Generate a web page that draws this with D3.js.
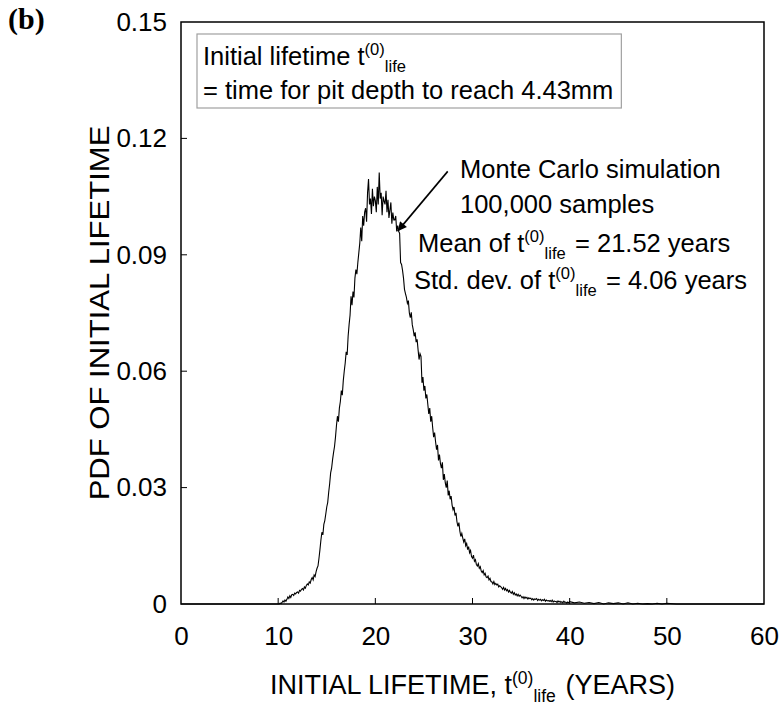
<!DOCTYPE html>
<html><head><meta charset="utf-8">
<script src="https://cdn.jsdelivr.net/npm/d3@7/dist/d3.min.js"></script>
<style>body{margin:0;background:#fff}svg{display:block}text{font-family:"Liberation Sans",Arial,sans-serif;fill:#000}</style>
</head><body><svg id="c" width="782" height="707"></svg>
<script>
// ---- data ----
const xTicks = [0, 10, 20, 30, 40, 50, 60];
const yTicks = [0, 0.03, 0.06, 0.09, 0.12, 0.15];
const yTickLabels = ["0", "0.03", "0.06", "0.09", "0.12", "0.15"];
// PDF values on a 0.1-year grid, 10.0 .. 39.9 years (one row per year)
const mainStart = 10.0, mainStep = 0.1;
const mainPdf = [
0.0000,0.0000,0.0002,0.0001,0.0004,0.0008,0.0005,0.0010,0.0007,0.0012,
0.0018,0.0014,0.0021,0.0017,0.0024,0.0025,0.0022,0.0028,0.0026,0.0030,
0.0031,0.0028,0.0035,0.0033,0.0038,0.0040,0.0036,0.0044,0.0041,0.0048,
0.0052,0.0049,0.0057,0.0054,0.0063,0.0068,0.0062,0.0075,0.0071,0.0083,
0.0092,0.0098,0.0118,0.0140,0.0165,0.0185,0.0178,0.0205,0.0215,0.0232,
0.0250,0.0262,0.0288,0.0310,0.0338,0.0350,0.0372,0.0390,0.0406,0.0430,
0.0460,0.0484,0.0470,0.0505,0.0522,0.0550,0.0538,0.0575,0.0600,0.0621,
0.0650,0.0642,0.0690,0.0720,0.0745,0.0793,0.0770,0.0805,0.0790,0.0840,
0.0862,0.0850,0.0880,0.0905,0.0930,0.0970,0.0935,0.1000,0.0975,0.1010,
0.1020,0.0985,0.1060,0.1095,0.1030,0.1045,0.1005,0.1070,0.1025,0.1050,
0.1040,0.1010,0.1075,0.1030,0.1112,0.1045,0.1060,0.1002,0.1050,0.1038,
0.1030,0.1065,0.1010,0.1042,0.0995,0.1015,0.1035,0.0980,0.1009,0.0990,
0.0990,0.1000,0.0960,0.0975,0.0961,0.0955,0.0880,0.0875,0.0860,0.0840,
0.0811,0.0800,0.0790,0.0775,0.0782,0.0750,0.0738,0.0752,0.0720,0.0707,
0.0690,0.0700,0.0675,0.0682,0.0655,0.0630,0.0645,0.0638,0.0570,0.0585,
0.0550,0.0562,0.0530,0.0540,0.0515,0.0490,0.0505,0.0470,0.0484,0.0455,
0.0430,0.0442,0.0418,0.0398,0.0410,0.0370,0.0385,0.0362,0.0350,0.0365,
0.0320,0.0335,0.0312,0.0300,0.0318,0.0280,0.0292,0.0270,0.0278,0.0255,
0.0243,0.0250,0.0228,0.0235,0.0212,0.0200,0.0210,0.0188,0.0174,0.0182,
0.0170,0.0160,0.0168,0.0150,0.0156,0.0140,0.0148,0.0132,0.0138,0.0122,
0.0118,0.0126,0.0110,0.0114,0.0102,0.0098,0.0104,0.0092,0.0096,0.0085,
0.0081,0.0086,0.0075,0.0079,0.0070,0.0068,0.0072,0.0062,0.0066,0.0058,
0.0057,0.0052,0.0058,0.0050,0.0053,0.0049,0.0051,0.0044,0.0047,0.0045,
0.0042,0.0038,0.0043,0.0036,0.0040,0.0034,0.0037,0.0031,0.0035,0.0030,
0.0028,0.0032,0.0025,0.0029,0.0023,0.0026,0.0021,0.0025,0.0020,0.0023,
0.0020,0.0016,0.0019,0.0014,0.0018,0.0015,0.0017,0.0013,0.0016,0.0014,
0.0015,0.0011,0.0014,0.0010,0.0013,0.0012,0.0014,0.0009,0.0012,0.0010,
0.0012,0.0008,0.0011,0.0009,0.0012,0.0007,0.0010,0.0008,0.0009,0.0007,
0.0009,0.0006,0.0010,0.0005,0.0008,0.0006,0.0007,0.0004,0.0008,0.0005,
0.0007,0.0004,0.0006,0.0003,0.0007,0.0004,0.0005,0.0002,0.0005,0.0003
];
// sparse tail beyond 40 years
const tailYears = [40.0,40.5,41.0,41.5,42.0,42.5,43.0,43.5,44.0,44.5,45.0,45.5,46.0,46.5,47.0,47.5,48.0,48.5,49.0,49.5,50.0,51.0,55.0,60.0];
const tailPdf   = [0.0006,0.0003,0.0005,0.0002,0.0004,0.0001,0.0004,0.0000,0.0003,0.0001,0.0003,0.0000,0.0003,0.0000,0.0002,0.0000,0.0001,0.0000,0.0002,0.0000,0.0002,0.0000,0.0000,0.0000];
const leadYears = [0, 10.0];
const leadPdf = [0, 0];

// ---- layout ----
const svg = d3.select("#c");
const L = 181, R = 764, T = 22, B = 604;
const x = d3.scaleLinear().domain([0, 60]).range([L, R]);
const y = d3.scaleLinear().domain([0, 0.15]).range([B, T]);
const F = 26, FA = 25.5;

const pts = [];
leadYears.forEach((t, i) => pts.push([t, leadPdf[i]]));
mainPdf.forEach((v, i) => pts.push([+(mainStart + i * mainStep).toFixed(1), v]));
tailYears.forEach((t, i) => pts.push([t, tailPdf[i]]));

svg.append("path").datum(pts)
  .attr("d", d3.line().x(d => x(d[0])).y(d => y(d[1])))
  .attr("fill", "none").attr("stroke", "#000").attr("stroke-width", 1.1);

// frame
svg.append("rect").attr("x", L).attr("y", T).attr("width", R - L).attr("height", B - T)
  .attr("fill", "none").attr("stroke", "#000").attr("stroke-width", 1.5);

// axes (inward ticks)
const xAxis = d3.axisBottom(x).tickValues(xTicks).tickSize(0).tickPadding(0).tickFormat(d3.format("d"));
const gx = svg.append("g").attr("transform", `translate(0,${B})`).call(xAxis);
gx.select(".domain").remove();
gx.selectAll("text").attr("font-size", F).attr("font-family", "Liberation Sans, Arial").attr("y", 41).attr("dy", 0);
svg.append("g").selectAll("line").data(xTicks.slice(1, -1)).join("line")
  .attr("x1", d => x(d)).attr("x2", d => x(d)).attr("y1", B).attr("y2", B - 6)
  .attr("stroke", "#000").attr("stroke-width", 1);

const yAxis = d3.axisLeft(y).tickValues(yTicks).tickSize(0).tickPadding(14)
  .tickFormat((d, i) => yTickLabels[i]);
const gy = svg.append("g").attr("transform", `translate(${L},0)`).call(yAxis);
gy.select(".domain").remove();
gy.selectAll("text").attr("font-size", F).attr("font-family", "Liberation Sans, Arial");
svg.append("g").selectAll("line").data(yTicks.slice(1, -1)).join("line")
  .attr("x1", L).attr("x2", L + 6).attr("y1", d => y(d)).attr("y2", d => y(d))
  .attr("stroke", "#000").attr("stroke-width", 1);

// helper for t^(0)_life
function tLife(sel, size) {
  sel.append("tspan").text("t");
  sel.append("tspan").attr("font-size", size * 0.65).attr("dy", -size * 0.38).text("(0)");
  sel.append("tspan").attr("font-size", size * 0.65).attr("dy", size * 0.66).text("life");
  sel.append("tspan").attr("font-size", size).attr("dy", -size * 0.28).text("\u200A");
}

// legend box
const lg = svg.append("g");
const box = lg.append("rect").attr("x", 197).attr("y", 34)
  .attr("fill", "#fff").attr("stroke", "#a0a0a0").attr("stroke-width", 1.2);
const l1 = lg.append("text").attr("x", 203).attr("y", 65).attr("font-size", FA);
l1.append("tspan").text("Initial lifetime ");
tLife(l1, FA);
const l2 = lg.append("text").attr("x", 203).attr("y", 99).attr("font-size", FA).text("= time for pit depth to reach 4.43mm");
const w = Math.max(l1.node().getComputedTextLength(), l2.node().getComputedTextLength());
box.attr("width", w + 14).attr("height", 74);

// annotations
svg.append("text").attr("x", 460).attr("y", 178).attr("font-size", FA).text("Monte Carlo simulation");
svg.append("text").attr("x", 460).attr("y", 213).attr("font-size", FA).text("100,000 samples");
const m = svg.append("text").attr("x", 418).attr("y", 252).attr("font-size", FA);
m.append("tspan").text("Mean of ");
tLife(m, FA);
m.append("tspan").text(" = 21.52 years");
const s = svg.append("text").attr("x", 414).attr("y", 289).attr("font-size", FA);
s.append("tspan").text("Std. dev. of ");
tLife(s, FA);
s.append("tspan").text(" = 4.06 years");

// arrow
svg.append("defs").append("marker").attr("id", "ah").attr("viewBox", "0 0 10 10")
  .attr("refX", 10).attr("refY", 5).attr("markerWidth", 12).attr("markerHeight", 9)
  .attr("markerUnits", "userSpaceOnUse").attr("orient", "auto")
  .append("path").attr("d", "M0,0 L10,5 L0,10 z").attr("fill", "#000");
svg.append("line").attr("x1", x(27.45)).attr("y1", y(0.1115)).attr("x2", x(22.3)).attr("y2", y(0.0961))
  .attr("stroke", "#000").attr("stroke-width", 1.6).attr("marker-end", "url(#ah)");

// axis titles
const xt = svg.append("text").attr("x", (L + R) / 2).attr("y", 694).attr("text-anchor", "middle").attr("font-size", 27);
xt.append("tspan").text("INITIAL LIFETIME, ");
tLife(xt, 27);
xt.append("tspan").text(" (YEARS)");
svg.append("text").attr("transform", `translate(109,${(T + B) / 2}) rotate(-90) scale(1.15,1)`).attr("text-anchor", "middle")
  .attr("font-size", 27).text("PDF OF INITIAL LIFETIME");

svg.append("text").attr("x", 8).attr("y", 29).attr("font-size", 30).attr("font-weight", "bold")
  .style("font-family", "Liberation Serif, Times New Roman, serif").text("(b)");
</script></body></html>
